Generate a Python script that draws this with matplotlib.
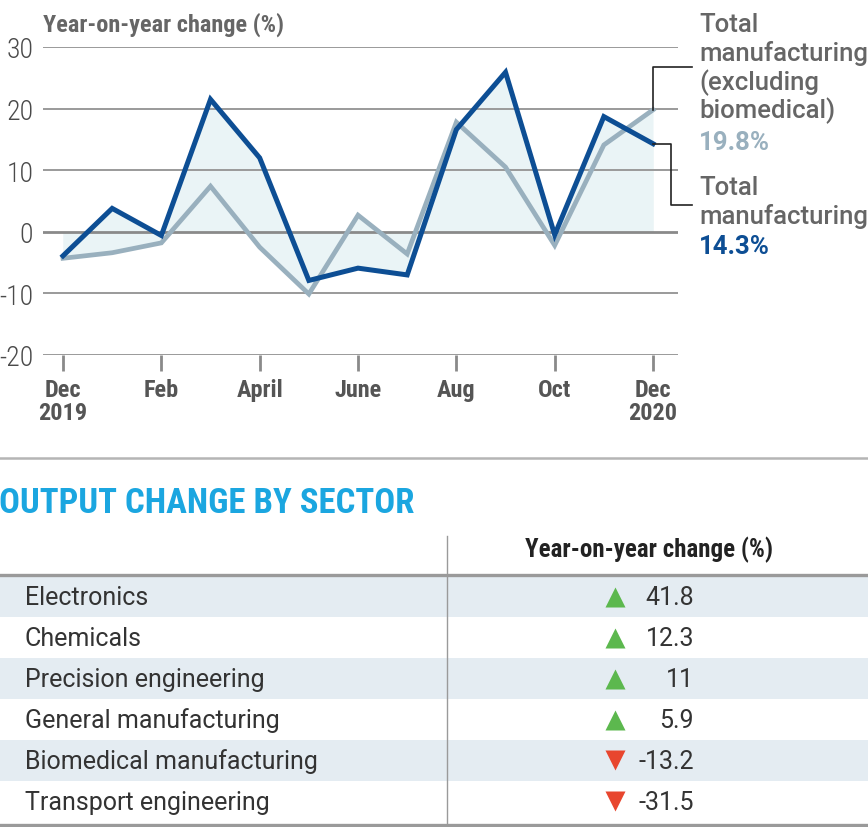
import matplotlib

matplotlib.use("Agg")
import matplotlib.pyplot as plt
import numpy as np
from matplotlib import font_manager as fm

# monthly year-on-year change (%), Dec 2019 .. Dec 2020
months = np.arange(13)
total_mfg = [-3.9, 3.8, -0.6, 21.5, 12.0, -7.9, -5.9, -7.0, 16.6, 25.9, -0.5, 18.7, 14.3]
excl_biomed = [-4.3, -3.4, -1.8, 7.4, -2.5, -10.1, 2.7, -3.6, 17.8, 10.5, -2.2, 14.1, 19.8]
tick_months = [0, 2, 4, 6, 8, 10, 12]
tick_labels = ["Dec\n2019", "Feb", "April", "June", "Aug", "Oct", "Dec\n2020"]

sectors = ["Electronics", "Chemicals", "Precision engineering",
           "General manufacturing", "Biomedical manufacturing", "Transport engineering"]
sector_change = [41.8, 12.3, 11, 5.9, -13.2, -31.5]

BLUE = "#0d4e94"
GREY_LINE = "#99b0be"
FILL = "#eaf4f6"
TXT = "#666666"
SANS = ["Roboto", "DejaVu Sans"]


def pick_condensed():
    # find a narrow face among the installed fonts
    fonts = fm.fontManager.ttflist
    names = {f.name for f in fonts}
    for n in ["Roboto Condensed", "Liberation Sans Narrow", "Open Sans Condensed",
              "Noto Sans Condensed", "DejaVu Sans Condensed", "Arial Narrow"]:
        if n in names:
            return {"family": [n, "DejaVu Sans"]}
    for base in ["Roboto", "Noto Sans", "Open Sans", "DejaVu Sans"]:
        for f in fonts:
            if f.name == base and "condensed" in str(f.stretch):
                return {"family": [base, "DejaVu Sans"], "stretch": "condensed"}
    for f in fonts:
        if "Condensed" in f.name or "Narrow" in f.name:
            return {"family": [f.name, "DejaVu Sans"]}
    return None


cond = pick_condensed()
if cond is None:
    COND = {"family": ["Roboto", "DejaVu Sans"]}
    shrink = 0.86
else:
    COND = cond
    shrink = 1.0

W, H = 868, 828
fig = plt.figure(figsize=(W / 100, H / 100), dpi=100)


def frac(x0, y0, x1, y1):
    # pixel box (top-left origin) -> figure fraction rect
    return [x0 / W, 1 - y1 / H, (x1 - x0) / W, (y1 - y0) / H]


# ---- line chart ----
ax = fig.add_axes(frac(43, 48, 678, 356))
ax.set_xlim(-0.407, 12.508)
ax.set_ylim(-20, 30)
for v in [-20, -10, 0, 10, 20, 30]:
    ax.axhline(v, color="#9a9a9a" if v != 0 else "#8a8a8a",
               lw=1.4 if v != 0 else 2.0, zorder=1)
a = np.array(total_mfg)
b = np.array(excl_biomed)
ax.fill_between(months, 0, a, color=FILL, lw=0, interpolate=True, zorder=0)
ax.fill_between(months, 0, b, color=FILL, lw=0, interpolate=True, zorder=0)
ax.plot(months, b, color=GREY_LINE, lw=3.4, solid_joinstyle="miter", zorder=3)
ax.plot(months, a, color=BLUE, lw=3.6, solid_joinstyle="miter", zorder=4)

ax.set_yticks([-20, -10, 0, 10, 20, 30])
ax.set_yticklabels(["-20", "-10", "0", "10", "20", "30"], **COND,
                   fontsize=20 * shrink, fontweight="light", color="#4a4a4a")
ax.tick_params(axis="y", length=0, pad=7)
ax.set_xticks(tick_months)
ax.set_xticklabels(tick_labels, **COND, fontsize=17.5 * shrink, fontweight="bold",
                   color="#555555", linespacing=1.0)
ax.tick_params(axis="x", length=11.5, width=2, color="#8a8a8a", pad=5)
for s in ax.spines.values():
    s.set_visible(False)

ax.text(0, 1.075, "Year-on-year change (%)", transform=ax.transAxes, **COND,
        fontsize=17.5 * shrink, fontweight="bold", color=TXT, ha="left", va="center")

# callout connectors
ax.plot([12, 12, 12.79], [excl_biomed[-1], 26.8, 26.8], color="#222222", lw=1.2,
        clip_on=False, zorder=5)
ax.plot([12, 12.36, 12.36, 12.79], [total_mfg[-1], total_mfg[-1], 4.4, 4.4],
        color="#222222", lw=1.2, clip_on=False, zorder=5)

# ---- overlay in pixel coordinates ----
ov = fig.add_axes([0, 0, 1, 1])
ov.set_xlim(0, W)
ov.set_ylim(H, 0)
ov.axis("off")

lab1 = ["Total", "manufacturing", "(excluding", "biomedical)"]
for i, t in enumerate(lab1):
    ov.text(699, 25 + i * 28.6, t, family=SANS, fontsize=18.5, fontweight="medium",
            color=TXT, va="center")
ov.text(699, 143, f"{excl_biomed[-1]}%", family=SANS, fontsize=18.5,
        fontweight="bold", color=GREY_LINE, va="center")
for i, t in enumerate(["Total", "manufacturing"]):
    ov.text(699, 188 + i * 28.6, t, family=SANS, fontsize=18.5, fontweight="medium",
            color=TXT, va="center")
ov.text(699, 247, f"{total_mfg[-1]}%", family=SANS, fontsize=18.5,
        fontweight="bold", color=BLUE, va="center")

# separator
ov.plot([0, W], [459, 459], color="#b5b5b5", lw=1.8)
ov.text(-1, 504, "OUTPUT CHANGE BY SECTOR", **COND, fontsize=25 * shrink,
        fontweight="bold", color="#1ba6e0", va="center", ha="left")

# ---- table ----
row_top, row_h = 577, 41.1
ov.plot([447, 447], [537, H - 2], color="#9a9a9a", lw=1.0)
ov.text(649, 550, "Year-on-year change (%)", **COND, fontsize=18 * shrink,
        fontweight="bold", color="#222222", ha="center", va="center")
ov.plot([0, W], [row_top - 1, row_top - 1], color="#9a9a9a", lw=2.4)
for i, (name, val) in enumerate(zip(sectors, sector_change)):
    y0 = row_top + i * row_h
    yc = y0 + row_h / 2 - 1
    if i % 2 == 0:
        ov.fill_between([0, W], y0, y0 + row_h, color="#e4ecf2", lw=0, zorder=0)
    ov.text(25, yc + 1, name, family=SANS, fontsize=18, color="#333333",
            va="center")
    ov.text(694, yc + 1, f"{val:g}", family=SANS, fontsize=18, color="#333333",
            va="center", ha="right")
    if val >= 0:
        ov.plot(615, yc + 1, marker="^", ms=15, color="#5cb84e", mec="none")
    else:
        ov.plot(615, yc, marker="v", ms=15, color="#e8462e", mec="none")
ov.plot([0, W], [row_top + 6 * row_h + 2, row_top + 6 * row_h + 2],
        color="#9a9a9a", lw=2.4)

fig.savefig("out.png", dpi=100)
